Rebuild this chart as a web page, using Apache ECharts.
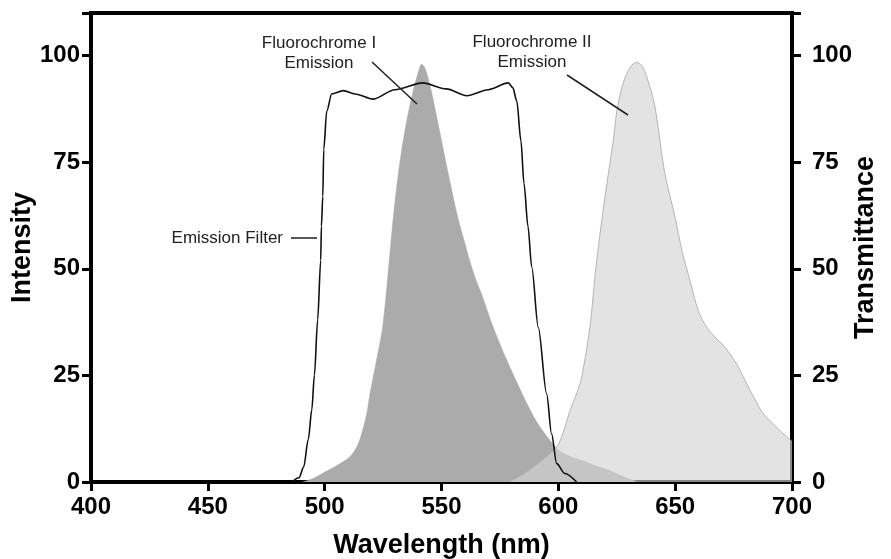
<!DOCTYPE html>
<html>
<head>
<meta charset="utf-8">
<script src="https://cdn.jsdelivr.net/npm/echarts@6/dist/echarts.min.js"></script>
<style>
  html, body { margin: 0; padding: 0; background: #fff; }
  #chart { width: 891px; height: 559px; }
</style>
</head>
<body>
<div id="chart"></div>
<script>
// wavelength ticks
const xTicks = [400, 450, 500, 550, 600, 650, 700];
const yTicks = [0, 25, 50, 75, 100];

// Fluorochrome I emission (dark)
const fluorIWave = [490.7, 495, 499, 505, 510.8, 514, 515.8, 518, 519.4, 522, 524.8, 527.5, 529, 531, 533, 535.4, 538, 540, 541.5, 543, 545.5, 548, 553, 557, 560, 562, 565, 567.2, 572, 578, 583, 588, 592, 596.4, 600, 605, 610.5, 616, 622, 628, 634];
const fluorIVal = [0, 0.8, 2, 3.8, 5.9, 8.5, 11.3, 16, 20.7, 28, 36.3, 51, 60, 70, 78, 85.5, 92, 96, 98, 97, 92, 85.5, 72, 62, 56, 52, 47, 44, 36.5, 28.5, 22.5, 16.8, 13, 9.8, 7.5, 6, 5, 3.8, 2.7, 1.2, 0];

// Fluorochrome II emission (light)
const fluorIIWave = [579, 585, 589.3, 594, 599.3, 602, 605, 608, 610, 613.5, 616.1, 619, 621.4, 623.5, 625.3, 628, 631, 633.5, 636, 639, 641.4, 645.6, 650, 653, 656.3, 660, 663.5, 667, 671.3, 676.3, 679.9, 684, 687.7, 694, 700];
const fluorIIVal = [0, 1.8, 3.5, 5.5, 8.2, 11.5, 16.8, 21, 24.6, 36.3, 50.4, 63, 72.3, 80, 87.9, 94, 97.5, 98.4, 97.5, 93, 87.9, 72.3, 62, 54, 47.3, 40, 36.3, 34, 31.6, 27.7, 23.8, 19.5, 16, 12.5, 9.5];

// emission filter transmittance
const filterWave = [486, 489, 491, 493, 494.5, 495.6, 497, 498.3, 498.6, 499.2, 499.6, 500.9, 503, 508, 513, 520.8, 530, 542, 552, 560.8, 570, 578.6, 580.5, 582.2, 584, 585.3, 587, 588.6, 591.4, 595, 597.1, 599.3, 602.8, 607.8];
const filterVal = [0, 1, 3.5, 10, 17, 25, 38, 52, 60, 67, 78, 87, 91, 91.8, 91, 89.8, 92, 93.6, 92.2, 90.6, 92, 93.6, 92.5, 89.4, 80, 70, 60, 50.5, 36.3, 20.7, 11.3, 4.3, 2, 0];

const pairs = (xs, ys) => xs.map((x, i) => [x, ys[i]]);

const chart = echarts.init(document.getElementById('chart'));
const font = "'Liberation Sans', Arial, sans-serif";

const yAxisBase = {
  type: 'value',
  min: 0,
  max: 110,
  interval: 25,
  nameLocation: 'middle',
  nameMoveOverlap: false,
  nameTextStyle: { fontFamily: font, fontSize: 27, fontWeight: 'bold', color: '#000' },
  axisLine: { show: true, lineStyle: { color: '#000', width: 4 } },
  axisTick: { show: true, length: 9, lineStyle: { color: '#000', width: 3 } },
  splitLine: { show: false },
  axisLabel: {
    fontFamily: font, fontSize: 24, fontWeight: 'bold', color: '#000',
    formatter: v => (yTicks.includes(v) ? String(v) : '')
  }
};

const option = {
  animation: false,
  backgroundColor: '#fff',
  grid: {
    left: 91, right: 99, top: 13, bottom: 77,
    outerBoundsMode: 'none', containLabel: false,
    show: true, borderColor: '#000', borderWidth: 4
  },
  xAxis: {
    type: 'value',
    min: xTicks[0],
    max: xTicks[xTicks.length - 1],
    interval: 50,
    name: 'Wavelength (nm)',
    nameLocation: 'middle',
    nameGap: 50,
    nameTextStyle: { fontFamily: font, fontSize: 27, fontWeight: 'bold', color: '#000' },
    axisLine: { lineStyle: { color: '#000', width: 4 } },
    axisTick: { length: 9, lineStyle: { color: '#000', width: 3 } },
    splitLine: { show: false },
    axisLabel: { fontFamily: font, fontSize: 24, fontWeight: 'bold', color: '#000', margin: 13 }
  },
  yAxis: [
    Object.assign({}, yAxisBase, {
      name: 'Intensity', position: 'left', nameGap: 55,
      axisLabel: Object.assign({}, yAxisBase.axisLabel, { margin: 11 })
    }),
    Object.assign({}, yAxisBase, {
      name: 'Transmittance', position: 'right', nameGap: 60,
      axisLabel: Object.assign({}, yAxisBase.axisLabel, { margin: 20 })
    })
  ],
  series: [
    {
      name: 'Fluorochrome I Emission',
      type: 'line',
      data: pairs(fluorIWave, fluorIVal),
      smooth: 0.3,
      symbol: 'none',
      lineStyle: { width: 0.5, color: '#ababab' },
      areaStyle: { color: '#ababab', opacity: 1 },
      z: 2
    },
    {
      name: 'Fluorochrome II Emission',
      type: 'line',
      data: pairs(fluorIIWave, fluorIIVal),
      smooth: 0.3,
      symbol: 'none',
      lineStyle: { width: 1, color: '#b4b4b4' },
      areaStyle: { color: 'rgb(211,211,211)', opacity: 0.64 },
      z: 3
    },
    {
      name: 'Emission Filter',
      type: 'line',
      yAxisIndex: 1,
      data: pairs(filterWave, filterVal),
      smooth: 0.3,
      smoothMonotone: 'x',
      symbol: 'none',
      lineStyle: { width: 1.6, color: '#111' },
      z: 4
    }
  ],
  graphic: [
    { type: 'text', z: 10,
      style: { text: 'Fluorochrome I\nEmission', x: 319, y: 33, textAlign: 'center', font: "17px 'Liberation Sans', Arial", fill: '#222', lineHeight: 20 } },
    { type: 'line', z: 10, shape: { x1: 372, y1: 62, x2: 417, y2: 104 }, style: { stroke: '#222', lineWidth: 1.5 } },
    { type: 'text', z: 10,
      style: { text: 'Fluorochrome II\nEmission', x: 532, y: 32, textAlign: 'center', font: "17px 'Liberation Sans', Arial", fill: '#222', lineHeight: 20 } },
    { type: 'line', z: 10, shape: { x1: 567, y1: 75, x2: 628, y2: 115 }, style: { stroke: '#222', lineWidth: 1.5 } },
    { type: 'text', z: 10,
      style: { text: 'Emission Filter', x: 283, y: 238, textAlign: 'right', textVerticalAlign: 'middle', font: "17px 'Liberation Sans', Arial", fill: '#222' } },
    { type: 'line', z: 10, shape: { x1: 291, y1: 238, x2: 317, y2: 238 }, style: { stroke: '#222', lineWidth: 1.5 } }
  ]
};

chart.setOption(option);
</script>
</body>
</html>
